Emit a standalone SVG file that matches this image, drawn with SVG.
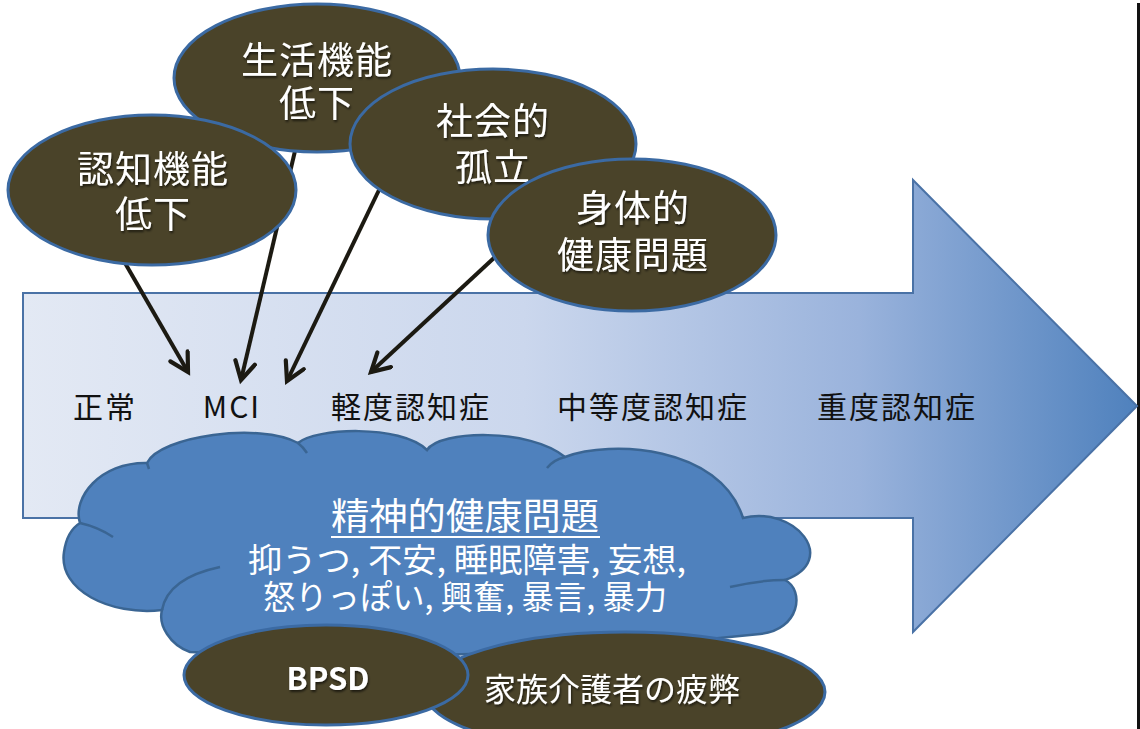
<svg xmlns="http://www.w3.org/2000/svg" width="1140" height="729" viewBox="0 0 1140 729">
<defs>
<linearGradient id="ag" x1="23" y1="0" x2="1137" y2="0" gradientUnits="userSpaceOnUse">
<stop offset="0" stop-color="#e3e9f4"/>
<stop offset="0.45" stop-color="#cbd7ed"/>
<stop offset="0.75" stop-color="#9ab3dc"/>
<stop offset="1" stop-color="#4f81bd"/>
</linearGradient>
<marker id="ah" markerUnits="userSpaceOnUse" markerWidth="26" markerHeight="26" refX="21" refY="12" orient="auto" viewBox="0 0 26 26">
<path d="M3,2 L21,12 L3,22" fill="none" stroke="#1c1a12" stroke-width="4.2" stroke-linejoin="miter" stroke-linecap="round"/>
</marker>
<filter id="sh" x="-10%" y="-10%" width="130%" height="140%">
<feDropShadow dx="1" dy="2" stdDeviation="1" flood-color="#000" flood-opacity="0.6"/>
</filter>
</defs>
<style>
.ell{fill:#4a4329;stroke:#3b6aa3;stroke-width:3}
.et{font-family:"Noto Sans CJK JP","Noto Sans",sans-serif;font-size:37px;fill:#fff;text-anchor:middle;letter-spacing:1px}
.lab{font-family:"Noto Sans CJK JP","Noto Sans",sans-serif;font-size:30px;fill:#111;text-anchor:middle;letter-spacing:2px}
.ct{font-family:"Noto Sans CJK JP","Noto Sans",sans-serif;fill:#fff;text-anchor:middle}
.con{stroke:#1c1a12;stroke-width:4;fill:none;marker-end:url(#ah)}
.inner{fill:none;stroke:#3a6593;stroke-width:2.5}
</style>
<rect x="0" y="0" width="1140" height="729" fill="#fff"/>
<rect x="1137" y="3" width="3" height="726" fill="#111"/>

<g id="progress-arrow">
<path d="M23,293 L913,293 L913,180 L1137,406 L913,632 L913,518 L23,518 Z" fill="url(#ag)" stroke="#4a72a6" stroke-width="2"/>
<text class="lab" x="105" y="418">正常</text>
<text class="lab" x="232" y="418">MCI</text>
<text class="lab" x="411" y="418">軽度認知症</text>
<text class="lab" x="653" y="418">中等度認知症</text>
<text class="lab" x="897" y="418">重度認知症</text>
</g>

<g id="cloud">
<path d="M80,523 C72,498 100,462 147,463 C160,436 260,422 298,443 C315,428 400,424 427,450 C440,430 530,428 565,457 C610,440 720,445 743,518 C795,505 840,560 785,580 C805,590 800,630 760,634 Q470,665 190,652 C170,645 158,625 162,610 C110,616 58,590 64,552 C66,538 72,528 80,523 Z" fill="#4f81bd" stroke="#3a6593" stroke-width="2.5"/>
<path class="inner" d="M80,523 Q98,527 113,537"/>
<path class="inner" d="M147,463 L149,469"/>
<path class="inner" d="M298,443 Q303,447 307,453"/>
<path class="inner" d="M565,457 Q553,460 547,468"/>
<path class="inner" d="M785,580 Q760,580 730,587"/>
<path class="inner" d="M162,610 Q168,578 220,567"/>
<text class="ct" x="465" y="530" font-size="37" textLength="268" lengthAdjust="spacingAndGlyphs">精神的健康問題</text>
<line x1="331" y1="537" x2="600" y2="537" stroke="#fff" stroke-width="2"/>
<text class="ct" font-size="33"><tspan x="467" y="572" textLength="438" lengthAdjust="spacingAndGlyphs">抑うつ, 不安, 睡眠障害, 妄想,</tspan><tspan x="465" y="609" textLength="404" lengthAdjust="spacingAndGlyphs">怒りっぽい, 興奮, 暴言, 暴力</tspan></text>
</g>

<g id="connectors">
<line class="con" x1="125" y1="263" x2="188" y2="372"/>
<line class="con" x1="295" y1="151" x2="241" y2="380"/>
<line class="con" x1="379" y1="190" x2="287" y2="381"/>
<line class="con" x1="495" y1="257" x2="371" y2="372"/>
</g>

<g id="node-seikatsu">
<ellipse class="ell" cx="317" cy="78" rx="143" ry="74"/>
<text class="et" filter="url(#sh)"><tspan x="317" y="74">生活機能</tspan><tspan x="317" y="117">低下</tspan></text>
</g>
<g id="node-ninchi">
<ellipse class="ell" cx="152" cy="190" rx="144" ry="75"/>
<text class="et" filter="url(#sh)"><tspan x="153" y="183">認知機能</tspan><tspan x="153" y="228">低下</tspan></text>
</g>
<g id="node-shakai">
<ellipse class="ell" cx="493" cy="144" rx="143" ry="75"/>
<text class="et" filter="url(#sh)"><tspan x="493" y="135">社会的</tspan><tspan x="493" y="181">孤立</tspan></text>
</g>
<g id="node-shintai">
<ellipse class="ell" cx="632" cy="235" rx="144" ry="76"/>
<text class="et" filter="url(#sh)"><tspan x="633" y="222">身体的</tspan><tspan x="633" y="269">健康問題</tspan></text>
</g>

<g id="node-kazoku">
<ellipse class="ell" cx="625" cy="692" rx="200" ry="60"/>
<text class="ct" x="612" y="701" font-size="32" filter="url(#sh)">家族介護者の疲弊</text>
</g>
<g id="node-bpsd">
<ellipse class="ell" cx="326" cy="675" rx="142" ry="50"/>
<text class="ct" x="328" y="690" font-size="31" font-weight="bold" filter="url(#sh)">BPSD</text>
</g>
</svg>
